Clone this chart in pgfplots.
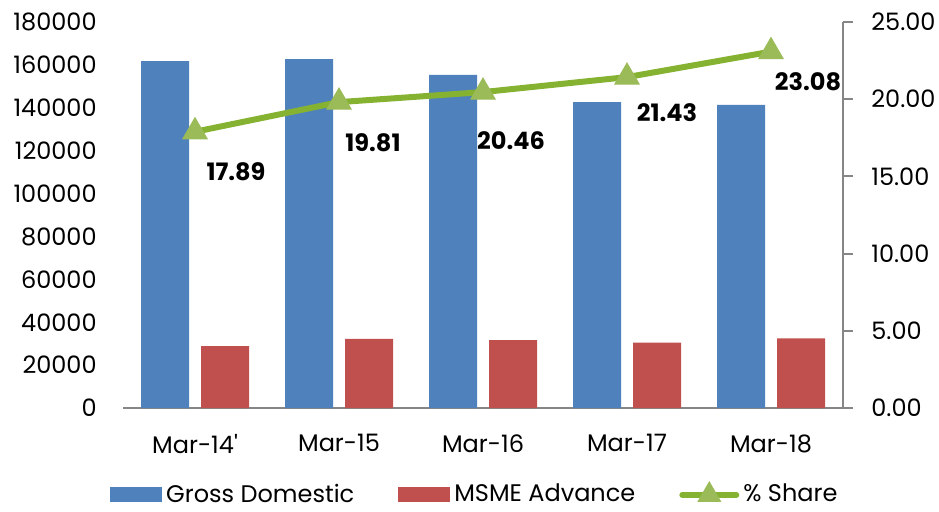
\documentclass[border=0pt]{standalone}
\usepackage{fontspec}
\setmainfont{Poppins}
\usepackage{pgfplots}
\pgfplotsset{compat=1.18}

\definecolor{gdblue}{HTML}{4F81BD}
\definecolor{msred}{HTML}{C0504D}
\definecolor{shline}{HTML}{86B231}
\definecolor{shmark}{HTML}{9BBB59}
\definecolor{axgray}{HTML}{868686}

\pgfplotstableread{
x gross msme
0 161800 28900
1 162700 32200
2 155300 31700
3 142600 30500
4 141400 32500
}\advances

\pgfplotstableread{
x share lab dx dy
0 17.89 17.89 20.5 -20
1 19.81 19.81 17 -20.5
2 20.46 20.46 14 -24.5
3 21.43 21.43 20 -18
4 23.08 23.08 18.5 -15
}\share

\begin{document}
\fontsize{12}{14.4}\selectfont
\begin{tikzpicture}
\begin{axis}[
    name=main,
    width=360pt, height=193pt, scale only axis,
    xmin=-0.5, xmax=4.5,
    ymin=0, ymax=180000,
    scaled y ticks=false,
    axis x line*=bottom, axis y line*=left,
    x axis line style={axgray, line width=1pt, -},
    y axis line style={draw=none},
    xtick={0,1,2,3,4},
    xticklabels={Mar-14\textquotesingle,Mar-15,Mar-16,Mar-17,Mar-18},
    ytick={0,20000,...,180000},
    yticklabels={0,20000,40000,60000,80000,100000,120000,140000,160000,180000},
    major tick length=0pt,
    xticklabel style={yshift=-9pt},
    yticklabel style={xshift=-9pt},
    ybar, bar width=24pt,
    legend columns=3,
    legend style={draw=none, fill=none, at={(0.49,-0.225)}, anchor=center,
        /tikz/every even column/.append style={column sep=20pt},
        inner sep=0pt},
]
\addplot[fill=gdblue, draw=none, bar shift=-15pt,
    legend image code/.code={\fill[gdblue] (0pt,-3.75pt) rectangle (26pt,3.75pt);}]
    table[x=x, y=gross] {\advances};
\addlegendentry{Gross Domestic}
\addplot[fill=msred, draw=none, bar shift=15pt,
    legend image code/.code={\fill[msred] (0pt,-3.75pt) rectangle (26pt,3.75pt);}]
    table[x=x, y=msme] {\advances};
\addlegendentry{MSME Advance}
\addlegendimage{legend image code/.code={
    \draw[shline, line width=3pt, line cap=round] (0pt,0pt) -- (27pt,0pt);
    \fill[shmark] (13.5pt,0pt) ++(90:6.5pt) -- ++(-120:11.26pt) -- ++(0:11.26pt) -- cycle;}}
\addlegendentry{\% Share}
\end{axis}

\begin{axis}[
    width=360pt, height=193pt, scale only axis,
    xmin=-0.5, xmax=4.5,
    ymin=0, ymax=25,
    axis x line=none, axis y line*=right,
    y axis line style={axgray, line width=1pt, -},
    ytick={0,5,...,25},
    yticklabels={0.00,5.00,10.00,15.00,20.00,25.00},
    tick align=outside, major tick length=5pt,
    ytick style={axgray, line width=1pt},
    yticklabel style={xshift=5pt},
]
\addplot[shline, line width=3pt, mark=triangle*, mark size=7pt,
    mark options={fill=shmark, draw=shmark, line width=0.5pt},
    visualization depends on={\thisrow{dx} \as \dx},
    visualization depends on={\thisrow{dy} \as \dy},
    point meta=explicit symbolic,
    nodes near coords,
    nodes near coords style={anchor=center, xshift=\dx pt, yshift=\dy pt,
        font=\bfseries, text=black}]
    table[x=x, y=share, meta=lab] {\share};
\end{axis}
\pgfresetboundingbox
\useasboundingbox ([xshift=-61.5pt,yshift=-52pt]main.south west)
    rectangle ([xshift=48pt,yshift=11pt]main.north east);
\end{tikzpicture}
\end{document}
